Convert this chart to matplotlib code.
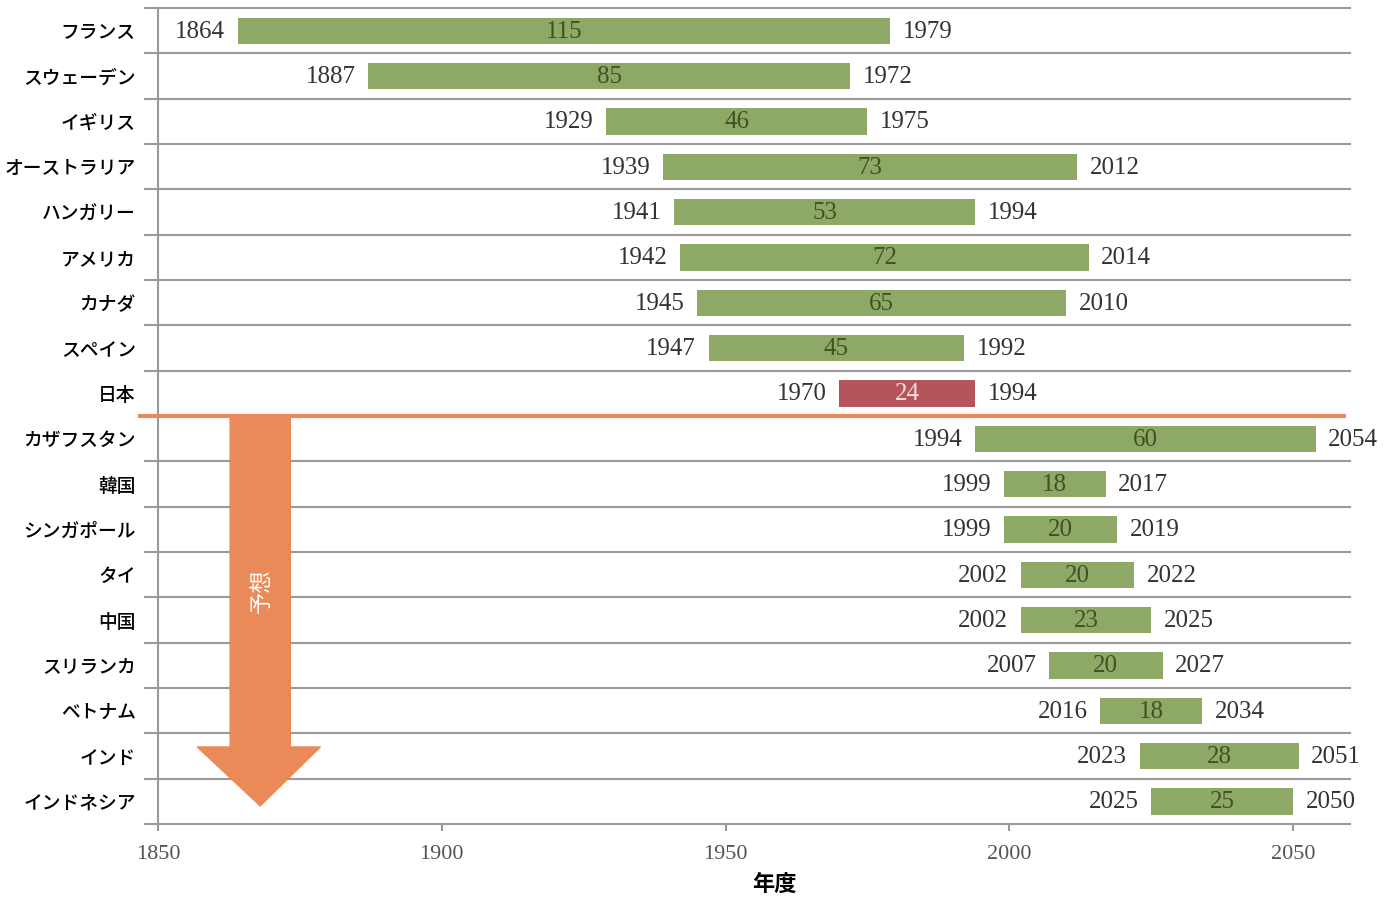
import numpy as np
import matplotlib.pyplot as plt
from matplotlib.patches import Polygon

plt.rcParams['font.family'] = ['Noto Sans CJK JP', 'DejaVu Sans']

countries = ['フランス', 'スウェーデン', 'イギリス', 'オーストラリア', 'ハンガリー',
             'アメリカ', 'カナダ', 'スペイン', '日本', 'カザフスタン', '韓国',
             'シンガポール', 'タイ', '中国', 'スリランカ', 'ベトナム', 'インド',
             'インドネシア']
start_year = [1864, 1887, 1929, 1939, 1941, 1942, 1945, 1947, 1970, 1994,
              1999, 1999, 2002, 2002, 2007, 2016, 2023, 2025]
end_year = [1979, 1972, 1975, 2012, 1994, 2014, 2010, 1992, 1994, 2054,
            2017, 2019, 2022, 2025, 2027, 2034, 2051, 2050]
x_ticks = [1850, 1900, 1950, 2000, 2050]

green = '#8ea866'
red = '#b5545a'
orange = '#e98a58'
num_color = '#333333'

fig = plt.figure(figsize=(13.89, 8.99), dpi=100)
ax = fig.add_axes([0.1138, 0.0834, 0.858, 0.9076])

n = len(countries)
y = np.arange(n)
for i in range(n):
    s, e = start_year[i], end_year[i]
    col = red if countries[i] == '日本' else green
    tcol = '#f3dede' if countries[i] == '日本' else '#3f5226'
    ax.barh(i, e - s, left=s, height=0.58, color=col, zorder=3)
    ax.text((s + e) / 2, i + 0.02, str(e - s), ha='center', va='center', color=tcol,
            fontsize=18, family='Liberation Serif', zorder=4)
    ax.annotate(str(s), (s, i + 0.02), xytext=(-9, 0), textcoords='offset points',
                ha='right', va='center', fontsize=18, family='Liberation Serif',
                color=num_color)
    ax.annotate(str(e), (e, i + 0.02), xytext=(9, 0), textcoords='offset points',
                ha='left', va='center', fontsize=18, family='Liberation Serif',
                color=num_color)

ax.set_xlim(1850, 2060)
ax.set_ylim(n - 0.5, -0.5)

# row separators
for i in range(n):
    yy = i - 0.5
    if i == 9:
        continue
    ax.plot([-0.011, 1.0], [yy, yy], color='#9a9a9a', lw=1.5,
            transform=ax.get_yaxis_transform(), clip_on=False, zorder=1)
ax.plot([-0.015, 0.995], [8.5, 8.5], color=orange, lw=3,
        transform=ax.get_yaxis_transform(), clip_on=False, zorder=5)

# forecast arrow
arrow = Polygon([[1862.7, 8.5], [1873.3, 8.5], [1873.3, 15.8], [1878.6, 15.8],
                 [1868.0, 17.1], [1856.9, 15.8], [1862.7, 15.8]],
                closed=True, color=orange, zorder=6)
ax.add_patch(arrow)
ax.text(1868.2, 12.35, '予想', rotation=90, ha='center', va='center',
        color='white', fontsize=16, zorder=7)

ax.set_yticks(y)
ax.set_yticklabels(countries, fontsize=13.5, fontweight='medium')
ax.tick_params(axis='y', length=0, pad=16)
ax.set_xticks(x_ticks)
ax.set_xticklabels([str(t) for t in x_ticks], family='Liberation Serif',
                   fontsize=16, color='#555555')
ax.tick_params(axis='x', length=5, color='#9a9a9a', width=1.5, pad=10)

for sp in ['top', 'right']:
    ax.spines[sp].set_visible(False)
ax.spines['left'].set_color('#9a9a9a')
ax.spines['left'].set_linewidth(1.5)
ax.spines['bottom'].set_visible(False)
ax.plot([-0.011, 1.0], [n - 0.5, n - 0.5], color='#9a9a9a', lw=1.5,
        transform=ax.get_yaxis_transform(), clip_on=False, zorder=1)

ax.set_xlabel('年度', fontsize=16, fontweight='bold')
ax.xaxis.set_label_coords(0.5176, -0.06)

fig.savefig('out.png', dpi=100)
